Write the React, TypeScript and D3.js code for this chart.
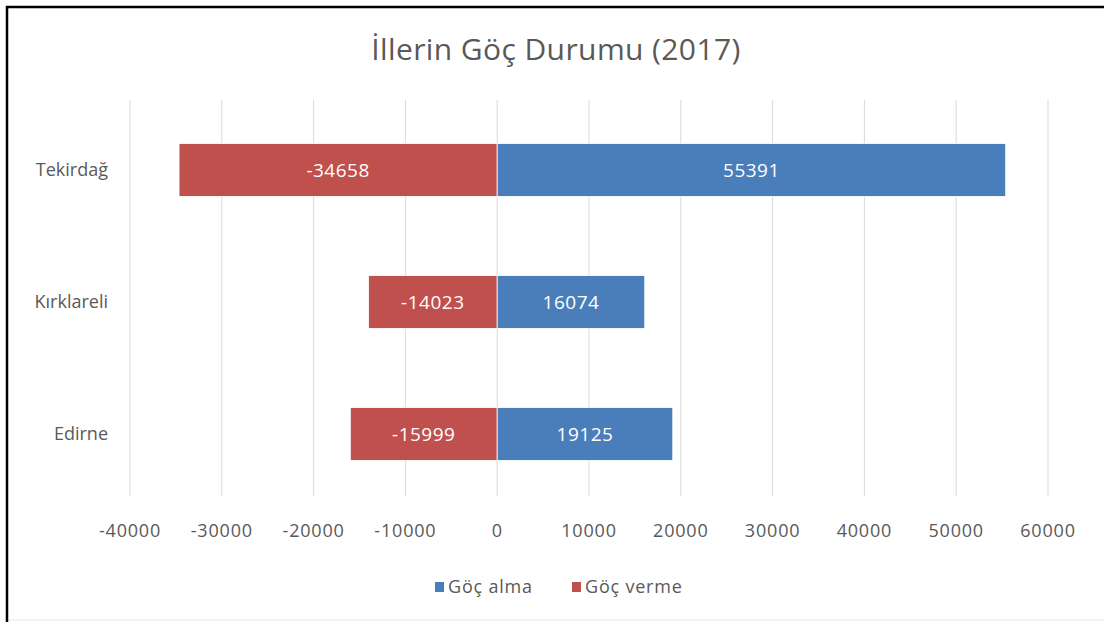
import React, { useEffect, useRef } from 'react'
import * as d3 from 'd3';

const provinces = ['Tekirdağ', 'Kırklareli', 'Edirne'];
const gocAlma = [55391, 16074, 19125];
const gocVerme = [-34658, -14023, -15999];
const xTicks = [-40000, -30000, -20000, -10000, 0, 10000, 20000, 30000, 40000, 50000, 60000];
const seriesNames = ['Göç alma', 'Göç verme'];
const seriesColors = ['#4a7ebb', '#c0504d'];

export default function App() {
    const svgRef = useRef<SVGSVGElement>(null);

    useEffect(() => {
        const width = 1104;
        const height = 622;
        const font = '"Open Sans", sans-serif';

        const svg = d3.select(svgRef.current)
            .attr('width', width)
            .attr('height', height);
        svg.selectAll('*').remove();

        svg.append('rect').attr('width', width).attr('height', height).attr('fill', '#fff');

        // faint bottom edge of the chart area
        svg.append('line')
            .attr('x1', 7).attr('x2', width)
            .attr('y1', 620).attr('y2', 620)
            .attr('stroke', '#e6e6e6');

        // frame (only top and left are visible in the picture)
        svg.append('path')
            .attr('d', `M7,${height} V7 H${width}`)
            .attr('fill', 'none')
            .attr('stroke', '#000')
            .attr('stroke-width', 2.5);

        const xScale = d3.scaleLinear()
            .domain([-40000, 60000])
            .range([130, 1048]);

        const yScale = d3.scaleBand()
            .domain(provinces)
            .range([104, 500])
            .paddingInner(0.6)
            .paddingOuter(0.3);

        // grid
        svg.append('g')
            .selectAll('line')
            .data(xTicks)
            .enter().append('line')
            .attr('x1', d => xScale(d))
            .attr('x2', d => xScale(d))
            .attr('y1', 100)
            .attr('y2', 496)
            .attr('stroke', '#d9d9d9')
            .attr('stroke-width', 1);

        const rows = provinces.map((p, i) => ({ p, alma: gocAlma[i], verme: gocVerme[i] }));

        const drawBars = (key: 'alma' | 'verme', color: string) => {
            svg.append('g')
                .selectAll('rect')
                .data(rows)
                .enter().append('rect')
                .attr('x', d => xScale(Math.min(0, d[key])))
                .attr('width', d => Math.abs(xScale(d[key]) - xScale(0)))
                .attr('y', d => yScale(d.p)!)
                .attr('height', yScale.bandwidth())
                .attr('fill', color)
                .attr('stroke', '#fff')
                .attr('stroke-width', 0.8);

            svg.append('g')
                .selectAll('text')
                .data(rows)
                .enter().append('text')
                .attr('x', d => (xScale(d[key]) + xScale(0)) / 2)
                .attr('y', d => yScale(d.p)! + yScale.bandwidth() / 2)
                .attr('dy', '0.35em')
                .attr('text-anchor', 'middle')
                .attr('fill', '#fff')
                .style('font-family', font)
                .style('font-size', '19px')
                .style('letter-spacing', '0.5px')
                .text(d => d[key]);
        };
        drawBars('verme', seriesColors[1]);
        drawBars('alma', seriesColors[0]);

        // category labels
        svg.append('g')
            .selectAll('text')
            .data(provinces)
            .enter().append('text')
            .attr('x', 108)
            .attr('y', d => yScale(d)! + yScale.bandwidth() / 2)
            .attr('dy', '0.35em')
            .attr('text-anchor', 'end')
            .attr('fill', '#595959')
            .style('font-family', font)
            .style('font-size', '18px')
            .text(d => d);

        // x tick labels
        svg.append('g')
            .selectAll('text')
            .data(xTicks)
            .enter().append('text')
            .attr('x', d => xScale(d))
            .attr('y', 531)
            .attr('dy', '0.35em')
            .attr('text-anchor', 'middle')
            .attr('fill', '#595959')
            .style('font-family', font)
            .style('font-size', '18px')
            .style('letter-spacing', '0.8px')
            .text(d => d);

        // title
        svg.append('text')
            .attr('x', 556)
            .attr('y', 49)
            .attr('dy', '0.35em')
            .attr('text-anchor', 'middle')
            .attr('fill', '#595959')
            .style('font-family', font)
            .style('font-size', '30px')
            .style('letter-spacing', '0.4px')
            .text('İllerin Göç Durumu (2017)');

        // legend
        const legendX = [435, 572];
        const legend = svg.append('g')
            .selectAll('g')
            .data(seriesNames)
            .enter().append('g')
            .attr('transform', (d, i) => `translate(${legendX[i]}, 587)`);
        legend.append('rect')
            .attr('x', 0)
            .attr('y', -5)
            .attr('width', 9)
            .attr('height', 10)
            .attr('fill', (d, i) => seriesColors[i]);
        legend.append('text')
            .attr('x', 13)
            .attr('dy', '0.35em')
            .attr('fill', '#595959')
            .style('font-family', font)
            .style('font-size', '18px')
            .style('letter-spacing', '0.8px')
            .text(d => d);
    }, []);

    return (
        <div style={{ position: 'fixed', left: 0, top: 0 }}>
            <svg ref={svgRef} style={{ display: 'block' }}></svg>
        </div>
    );
}
